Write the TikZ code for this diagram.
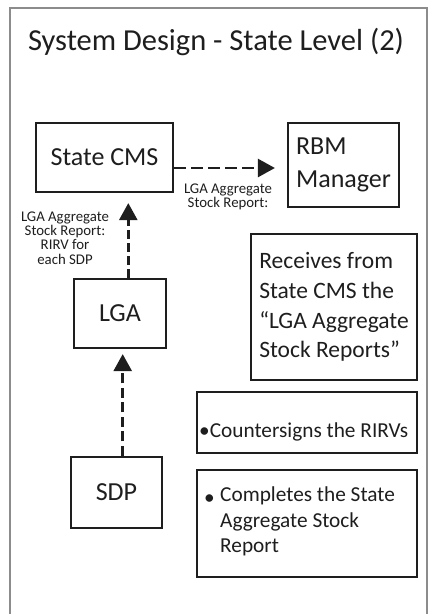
\documentclass[tikz,border=0pt]{standalone}
\usepackage{fontspec}
\setmainfont{Carlito}
\usetikzlibrary{arrows.meta}
\definecolor{ink}{HTML}{1E1E1E}
\definecolor{framegray}{HTML}{8C8C8C}
\begin{document}
\begin{tikzpicture}[x=1pt,y=-1pt,
  box/.style={draw=ink, line width=2.2pt, inner sep=0pt, text=ink},
  bigtxt/.style={font=\fontsize{26}{33.4}\selectfont},
  midtxt/.style={font=\fontsize{23.5}{29.7}\selectfont},
  smalltxt/.style={font=\fontsize{21.3}{25.5}\selectfont},
  note/.style={font=\fontsize{14.8}{14.2}\selectfont, align=center, inner sep=0pt, text=ink},
  flow/.style={draw=ink, line width=2.6pt, -{Triangle[length=17pt,width=18pt]}},
]
\useasboundingbox (0,0) rectangle (431,614);

% outer slide frame (open at the bottom)
\draw[framegray, line width=1.5pt] (10,614) -- (10,8) -- (427,8) -- (427,614);

% title
\node[anchor=base, inner sep=0pt, text=ink, font=\fontsize{30.5}{36}\selectfont]
  (title) at (216,50) {System Design - State Level (2)};

% actors
\node[box, bigtxt, minimum width=137pt, minimum height=69pt] (cms) at (104.5,157.5) {State CMS};
\node[box, bigtxt, align=left, minimum width=111pt, minimum height=84pt] (rbm) at (343.5,165) {RBM\\Manager};
\node[box, bigtxt, minimum width=92pt, minimum height=69pt] (lga) at (120,313.5) {LGA};
\node[box, bigtxt, minimum width=91pt, minimum height=71pt] (sdp) at (116.5,492.5) {SDP};

% responsibility boxes
\node[box, midtxt, align=left, minimum width=166pt, minimum height=146pt] (recv) at (334,307)
  {Receives from\\State CMS the\\“LGA Aggregate\\Stock Reports”};
\node[box, minimum width=220pt, minimum height=61pt] (csbox) at (307,422.5) {};
\node[anchor=base west, inner sep=0pt, smalltxt, text=ink] (cstext) at (199,437)
  {•Countersigns the RIRVs};
\node[box, minimum width=220pt, minimum height=107pt] (cpbox) at (307,523.5) {};
\node[anchor=base west, inner sep=0pt, smalltxt, text=ink] (cpbullet) at (204,504) {•};
\node[anchor=north west, inner sep=0pt, smalltxt, align=left, text=ink] (cptext) at (220,487)
  {Completes the State\\Aggregate Stock\\Report};

% report flows
\draw[flow, dash pattern=on 12pt off 5pt, shorten >=12pt]
  ([yshift=-10.5pt]cms.east) -- ([yshift=-10.5pt]cms.east -| rbm.west);
\draw[flow, dash pattern=on 9pt off 4pt, shorten >=10pt]
  ([xshift=8.3pt]lga.north) -- ([xshift=8.3pt]lga.north |- cms.south);
\draw[flow, dash pattern=on 10pt off 4.5pt, shorten >=5pt]
  ([xshift=6.2pt]sdp.north) -- ([xshift=6.2pt]sdp.north |- lga.south);

% flow labels
\node[note] (lblh) at (228,197) {LGA Aggregate\\Stock Report:};
\node[note] (lblv) at (65,238) {LGA Aggregate\\Stock Report:\\RIRV for\\each SDP};
\end{tikzpicture}
\end{document}
